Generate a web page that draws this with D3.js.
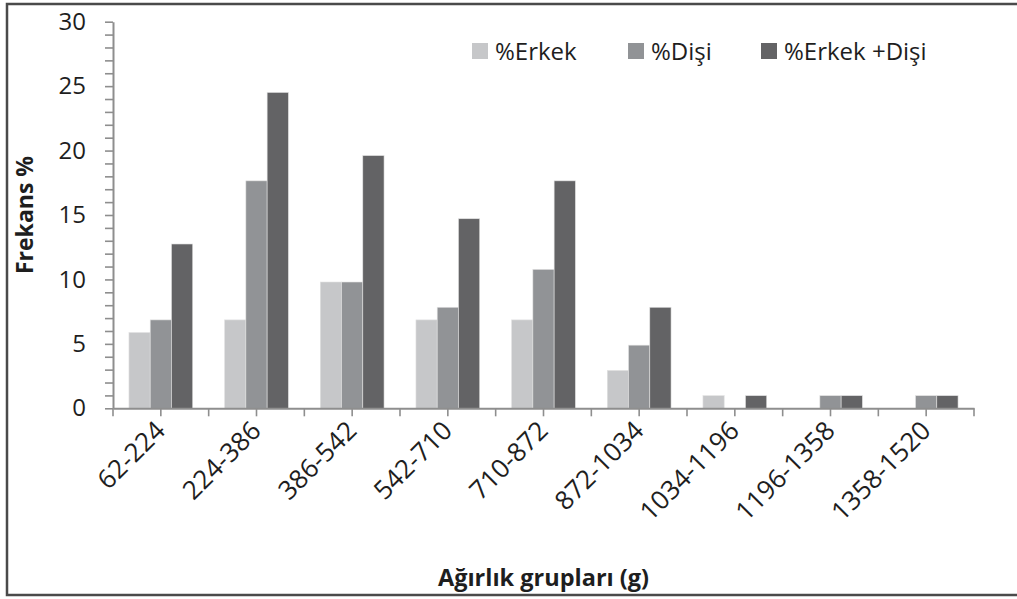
<!DOCTYPE html>
<html>
<head>
<meta charset="utf-8">
<script src="https://cdn.jsdelivr.net/npm/d3@7"></script>
<style>
  html, body { margin: 0; padding: 0; background: #fff; }
  svg { display: block; }
  text { font-family: "Open Sans", "Liberation Sans", sans-serif; fill: #1e1e1e; }
</style>
</head>
<body>
<svg id="chart" width="1017" height="599"></svg>
<script>
// Weight classes (g)
const categories = ["62-224", "224-386", "386-542", "542-710", "710-872",
                    "872-1034", "1034-1196", "1196-1358", "1358-1520"];
// Frequency (%) per class
const erkek = [5.88, 6.86, 9.80, 6.86, 6.86, 2.94, 0.98, 0, 0];
const disi  = [6.86, 17.65, 9.80, 7.84, 10.78, 4.90, 0, 0.98, 0.98];
const toplam = [12.75, 24.51, 19.61, 14.71, 17.65, 7.84, 0.98, 0.98, 0.98];
const seriesNames = ["%Erkek", "%Dişi", "%Erkek +Dişi"];
const yTicks = d3.range(0, 31, 1);

const colors = ["#c6c7c9", "#919396", "#636365"];
const series = [erkek, disi, toplam];

const svg = d3.select("#chart");

// outer frame
svg.append("rect")
  .attr("x", 7).attr("y", 4).attr("width", 1012).attr("height", 591)
  .attr("fill", "none").attr("stroke", "#4a4a4a").attr("stroke-width", 2.5);

const plot = { left: 113, right: 974, top: 21.7, bottom: 408.3 };

const x = d3.scaleBand().domain(categories).range([plot.left, plot.right]).padding(0);
const y = d3.scaleLinear().domain([0, 30]).range([plot.bottom, plot.top]);

// bars: gap width 150% of a bar
const bw = x.bandwidth() / 4.5;
const sub = d3.scaleBand().domain(d3.range(3)).range([0.75 * bw, 3.75 * bw]);

series.forEach((vals, si) => {
  svg.append("g").selectAll("rect")
    .data(vals.map((v, i) => ({ v, c: categories[i] })))
    .join("rect")
    .attr("x", d => x(d.c) + sub(si))
    .attr("width", sub.bandwidth())
    .attr("y", d => y(d.v))
    .attr("height", d => y(0) - y(d.v))
    .attr("fill", colors[si])
    .attr("stroke", d => d.v > 0 ? "#e2e2e2" : "none")
    .attr("stroke-width", 0.6);
});

const axisColor = "#8e8e8e";

// y axis
const yAxis = svg.append("g")
  .attr("transform", `translate(${plot.left},0)`)
  .call(d3.axisLeft(y).tickValues(yTicks).tickSize(8).tickSizeOuter(0).tickPadding(19)
    .tickFormat(d => d % 5 === 0 ? d : ""));
yAxis.select(".domain").attr("stroke", axisColor).attr("stroke-width", 2);
yAxis.selectAll(".tick line").attr("stroke", axisColor).attr("stroke-width", 1.6);
yAxis.selectAll(".tick text").attr("font-size", 24).attr("fill", "#1e1e1e")
  .style("font-family", "'Open Sans', sans-serif");

// x axis: ticks at class centres and class boundaries
const xAxis = svg.append("g")
  .attr("transform", `translate(0,${plot.bottom})`)
  .call(d3.axisBottom(x).tickSize(8).tickSizeOuter(0).tickFormat(""));
xAxis.select(".domain").attr("stroke", axisColor).attr("stroke-width", 2);
xAxis.selectAll(".tick line").attr("stroke", axisColor).attr("stroke-width", 1.6);
const bounds = categories.map(c => x(c)).concat([x(categories[categories.length - 1]) + x.bandwidth()]);
xAxis.append("g").selectAll("line").data(bounds).join("line")
  .attr("x1", d => d).attr("x2", d => d).attr("y1", 0).attr("y2", 8)
  .attr("stroke", axisColor).attr("stroke-width", 1.6);

// rotated class labels
svg.append("g").selectAll("text")
  .data(categories).join("text")
  .attr("transform", d => `translate(${x(d) + x.bandwidth() / 2 + 6},${plot.bottom + 24}) rotate(-45)`)
  .attr("text-anchor", "end")
  .attr("font-size", 26)
  .text(d => d);

// axis titles
svg.append("text")
  .attr("transform", `translate(33,215) rotate(-90)`)
  .attr("text-anchor", "middle")
  .attr("font-size", 23).attr("font-weight", "bold")
  .text("Frekans %");

svg.append("text")
  .attr("x", (plot.left + plot.right) / 2).attr("y", 586)
  .attr("text-anchor", "middle")
  .attr("font-size", 23.5).attr("font-weight", "bold")
  .text("Ağırlık grupları (g)");

// legend
const legendX = [472, 628, 761];
const legend = svg.append("g");
seriesNames.forEach((name, i) => {
  legend.append("rect")
    .attr("x", legendX[i]).attr("y", 43).attr("width", 16).attr("height", 16)
    .attr("fill", colors[i]);
  legend.append("text")
    .attr("x", legendX[i] + 23).attr("y", 60)
    .attr("font-size", 24)
    .text(name);
});
</script>
</body>
</html>
